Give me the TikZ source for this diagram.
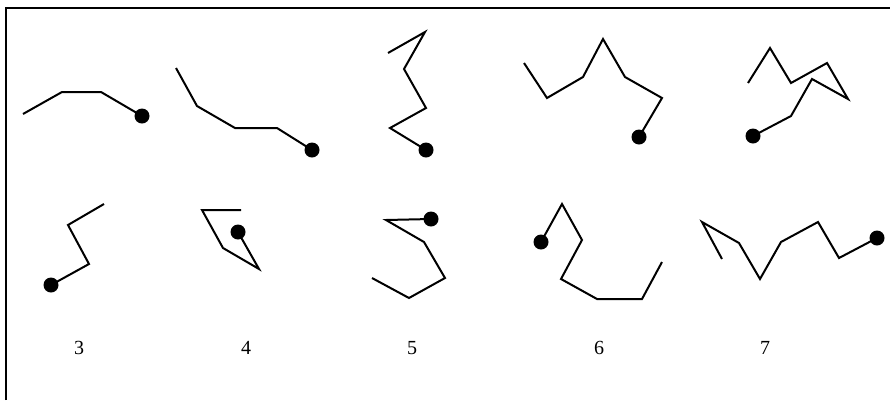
\documentclass[tikz,border=0pt]{standalone}
\usepackage{fontspec}
\setmainfont{Liberation Serif}
\begin{document}
\begin{tikzpicture}[x=1pt,y=-1pt,
  chain/.style={line width=2pt,line join=miter},
  bead/.style={circle,fill=black,inner sep=0pt,minimum size=15pt},
  lbl/.style={font=\fontsize{20}{22}\selectfont}]
\useasboundingbox (0,0) rectangle (890,400);
\draw[line width=2pt] (6,400) -- (6,8) -- (890,8);
% top row
\node[bead] (b1) at (142,116) {};
\draw[chain] (23,114) -- (62,92) -- (101,92) -- (b1.center);
\node[bead] (b2) at (312,150) {};
\draw[chain] (176,68) -- (197,106) -- (235,128) -- (277,128) -- (b2.center);
\node[bead] (b3) at (426,150) {};
\draw[chain] (388,53) -- (425,32) -- (404,69) -- (426,108) -- (390,128) -- (b3.center);
\node[bead] (b4) at (639,137) {};
\draw[chain] (524,63) -- (547,98) -- (583,77) -- (603,39) -- (625,77) -- (662,98) -- (b4.center);
\node[bead] (b5) at (753,136) {};
\draw[chain] (748,83) -- (770,48) -- (791,83) -- (827,63) -- (848,99) -- (812,79) -- (791,116) -- (b5.center);
% bottom row
\node[bead] (b6) at (51,285) {};
\draw[chain] (104,204) -- (68,225) -- (89,264) -- (b6.center);
\node[bead] (b7) at (238,232) {};
\draw[chain] (241,210) -- (202,210) -- (223,248) -- (259,269) -- (b7.center);
\node[bead] (b8) at (431,219) {};
\draw[chain] (372,278) -- (409,298) -- (445,278) -- (424,242) -- (386,220) -- (b8.center);
\node[bead] (b9) at (541,242) {};
\draw[chain] (662,262) -- (642,299) -- (597,299) -- (561,279) -- (582,240) -- (562,204) -- (b9.center);
\node[bead] (b10) at (877,238) {};
\draw[chain] (722,259) -- (702,222) -- (739,243) -- (760,279) -- (781,242) -- (818,222) -- (839,258) -- (b10.center);
% labels
\node[lbl] (l3) at (79,348) {3};
\node[lbl] (l4) at (246,348) {4};
\node[lbl] (l5) at (412,348) {5};
\node[lbl] (l6) at (599,348) {6};
\node[lbl] (l7) at (765,348) {7};
\end{tikzpicture}
\end{document}
